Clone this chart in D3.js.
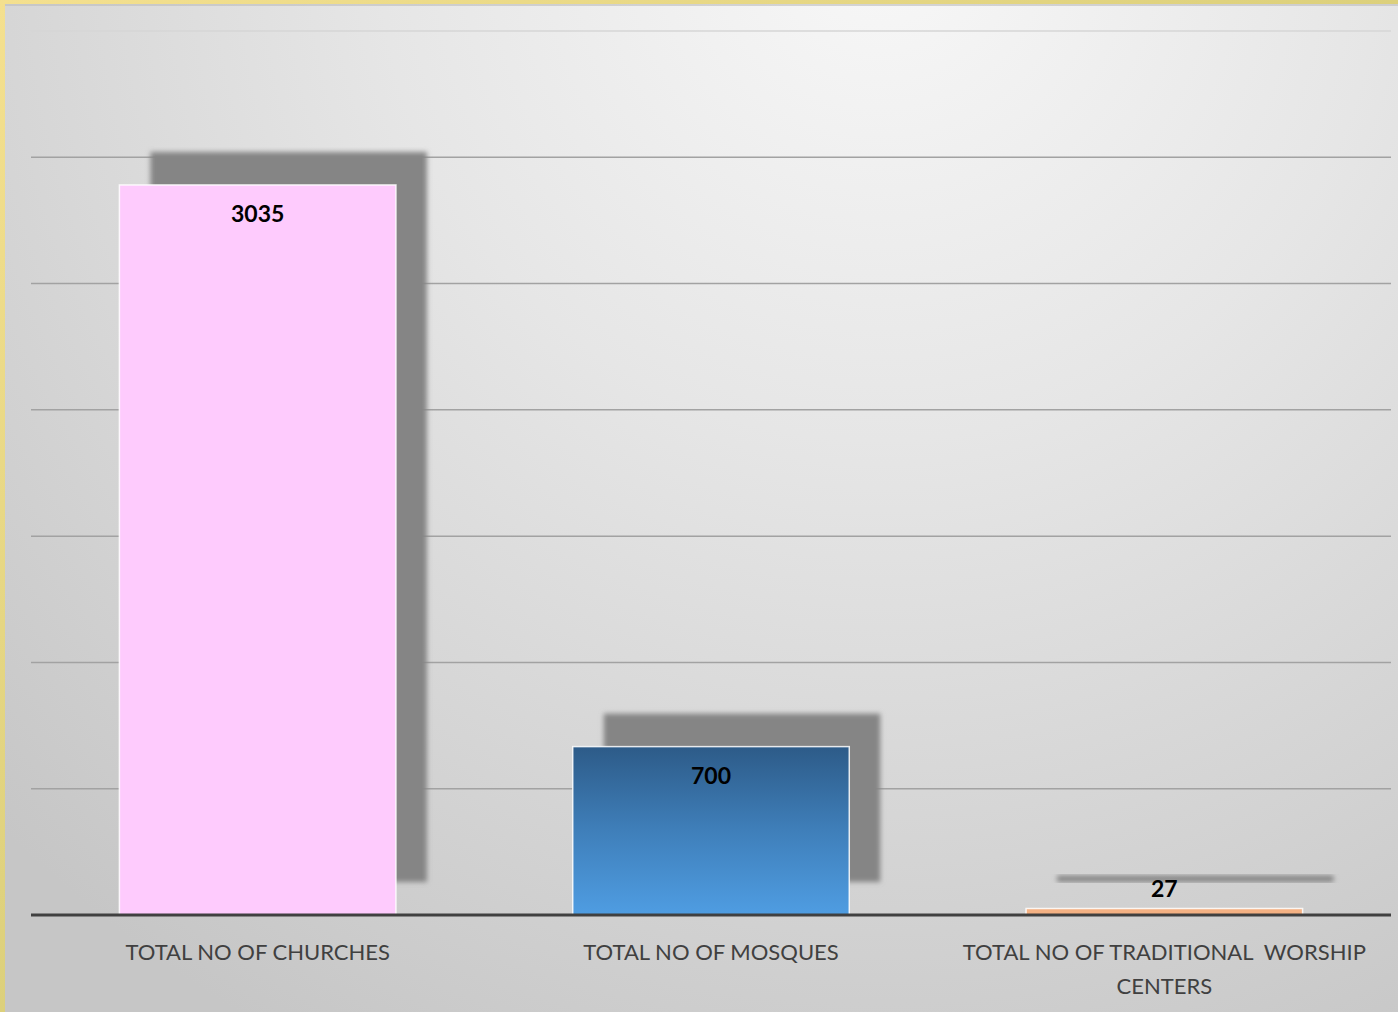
<!DOCTYPE html>
<html lang="en">
<head>
    <meta charset="utf-8">
    <title>Worship Centers</title>
    <style>
        body {
            margin: 0;
            padding: 0;
            overflow: hidden;
        }
        svg {
            display: block;
        }
        .cat-label {
            font-family: Lato, "Open Sans", sans-serif;
            font-size: 22px;
            fill: #404040;
        }
        .value-label {
            font-family: Lato, "Open Sans", sans-serif;
            font-size: 23px;
            font-weight: bold;
            fill: #000;
        }
    </style>
</head>
<body>
    <div id="chart"></div>

    <script src="https://d3js.org/d3.v7.min.js"></script>
    <script>
        // Chart data
        const categories = ["TOTAL NO OF CHURCHES", "TOTAL NO OF MOSQUES", "TOTAL NO OF TRADITIONAL  WORSHIP CENTERS"];
        const labelLines = [["TOTAL NO OF CHURCHES"], ["TOTAL NO OF MOSQUES"], ["TOTAL NO OF TRADITIONAL  WORSHIP", "CENTERS"]];
        const values = [3035, 700, 27];
        const gridTicks = [0, 525, 1050, 1575, 2100, 2625, 3150, 3675];

        const width = 1398, height = 1012;
        const plot = { left: 31, right: 1391, top: 31, bottom: 915 };

        const svg = d3.select("#chart")
            .append("svg")
            .attr("width", width)
            .attr("height", height);

        const defs = svg.append("defs");

        // frame gradient (yellow border)
        const frameGrad = defs.append("linearGradient")
            .attr("id", "frame")
            .attr("x1", "0%").attr("y1", "0%")
            .attr("x2", "100%").attr("y2", "100%");
        frameGrad.append("stop").attr("offset", "0%").attr("stop-color", "#f4e08f");
        frameGrad.append("stop").attr("offset", "100%").attr("stop-color", "#c4c068");

        // background radial gradient
        const bgGrad = defs.append("radialGradient")
            .attr("id", "bg")
            .attr("gradientUnits", "userSpaceOnUse")
            .attr("cx", 880).attr("cy", -60).attr("r", 1250);
        bgGrad.append("stop").attr("offset", "0%").attr("stop-color", "#f8f8f8");
        bgGrad.append("stop").attr("offset", "40%").attr("stop-color", "#e6e6e6");
        bgGrad.append("stop").attr("offset", "100%").attr("stop-color", "#c6c6c6");

        // blue bar gradient
        const blueGrad = defs.append("linearGradient")
            .attr("id", "blue")
            .attr("x1", "0%").attr("y1", "0%")
            .attr("x2", "0%").attr("y2", "100%");
        blueGrad.append("stop").attr("offset", "0%").attr("stop-color", "#2d5b88");
        blueGrad.append("stop").attr("offset", "50%").attr("stop-color", "#3f7fba");
        blueGrad.append("stop").attr("offset", "100%").attr("stop-color", "#4f9de2");

        const shadow = defs.append("filter")
            .attr("id", "blur")
            .attr("x", "-10%").attr("y", "-10%")
            .attr("width", "120%").attr("height", "120%");
        shadow.append("feGaussianBlur").attr("stdDeviation", 2.5);

        const fills = ["#fecbfd", "url(#blue)", "#f4b183"];

        // frame + background
        svg.append("rect")
            .attr("width", width).attr("height", height)
            .attr("fill", "url(#frame)");
        svg.append("rect")
            .attr("x", 5).attr("y", 4)
            .attr("width", width - 5).attr("height", height - 4)
            .attr("fill", "url(#bg)");
        svg.append("rect")
            .attr("x", 5).attr("y", 4)
            .attr("width", width - 5).attr("height", 2)
            .attr("fill", "#bdbdbd")
            .attr("opacity", 0.6);

        // scales
        const x = d3.scaleBand()
            .domain(categories)
            .range([plot.left, plot.right])
            .paddingInner(0.39)
            .paddingOuter(0.195);

        const y = d3.scaleLinear()
            .domain([0, 3675])
            .range([plot.bottom, plot.top]);

        // gridlines
        svg.append("g")
            .selectAll("line")
            .data(gridTicks.slice(1))
            .join("line")
            .attr("x1", plot.left)
            .attr("x2", plot.right)
            .attr("y1", d => y(d))
            .attr("y2", d => y(d))
            .attr("stroke", (d, i) => i === gridTicks.length - 2 ? "#d6d6d6" : "#a2a2a2")
            .attr("stroke-width", 1.5);

        // shadows
        svg.append("g")
            .selectAll("rect")
            .data(values)
            .join("rect")
            .attr("x", (d, i) => x(categories[i]) + 31)
            .attr("y", d => y(d) - 33)
            .attr("width", x.bandwidth())
            .attr("height", d => Math.max(5, plot.bottom - y(d)))
            .attr("fill", "#858585")
            .attr("filter", "url(#blur)");

        // bars
        svg.append("g")
            .selectAll("rect")
            .data(values)
            .join("rect")
            .attr("x", (d, i) => x(categories[i]))
            .attr("y", d => y(d))
            .attr("width", x.bandwidth())
            .attr("height", d => plot.bottom - y(d))
            .attr("fill", (d, i) => fills[i])
            .attr("stroke", "#ffffff")
            .attr("stroke-opacity", 0.85)
            .attr("stroke-width", 1.5);

        // baseline
        svg.append("line")
            .attr("x1", plot.left)
            .attr("x2", plot.right)
            .attr("y1", y(0))
            .attr("y2", y(0))
            .attr("stroke", "#404040")
            .attr("stroke-width", 3);

        // value labels
        svg.append("g")
            .selectAll("text")
            .data(values)
            .join("text")
            .attr("class", "value-label")
            .attr("x", (d, i) => x(categories[i]) + x.bandwidth() / 2)
            .attr("y", d => (plot.bottom - y(d) > 40 ? y(d) + 28 : y(d) - 21))
            .attr("text-anchor", "middle")
            .attr("dominant-baseline", "central")
            .text(d => d);

        // category labels
        const cat = svg.append("g")
            .selectAll("text")
            .data(categories)
            .join("text")
            .attr("class", "cat-label")
            .attr("text-anchor", "middle")
            .attr("transform", d => `translate(${x(d) + x.bandwidth() / 2},0)`);

        cat.selectAll("tspan")
            .data((d, i) => labelLines[i])
            .join("tspan")
            .attr("x", 0)
            .attr("y", (d, j) => 951 + j * 34)
            .attr("dominant-baseline", "central")
            .attr("xml:space", "preserve")
            .style("white-space", "pre")
            .text(d => d);
    </script>
</body>
</html>
